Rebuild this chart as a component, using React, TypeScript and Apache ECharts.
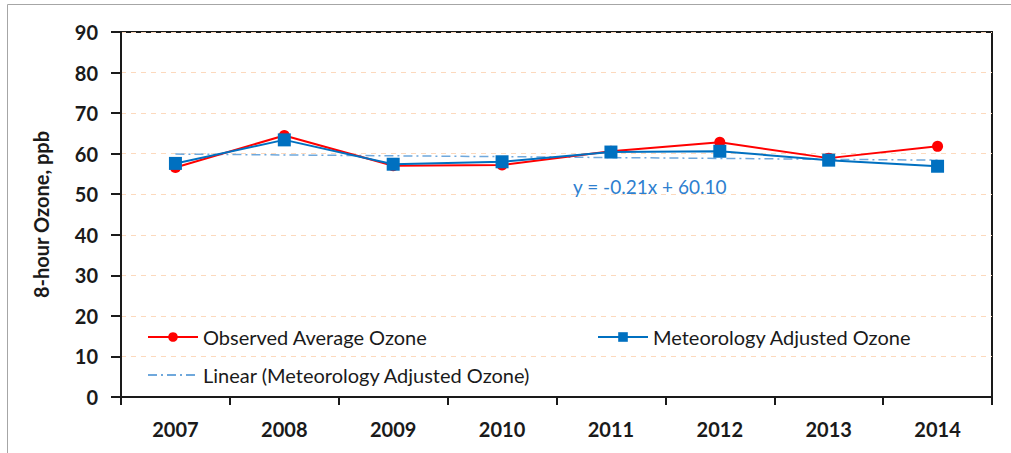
import React, { useEffect, useRef } from "react";
import * as echarts from "echarts";

const years = ["2007", "2008", "2009", "2010", "2011", "2012", "2013", "2014"];
const observed = [56.6, 64.5, 57.0, 57.2, 60.6, 62.8, 58.9, 61.8];
const adjusted = [57.6, 63.4, 57.4, 58.0, 60.4, 60.6, 58.4, 56.9];
// Linear trend endpoints (y = -0.21x + 60.10)
const trend = [59.9, null, null, null, null, null, null, 58.4];
const trendLabel = "y = -0.21x + 60.10";
const yTicks = { min: 0, max: 90, interval: 10 };

const FONT = "Lato, 'Open Sans', sans-serif";

export default function App() {
  const ref = useRef<HTMLDivElement>(null);
  useEffect(() => {
    const chart = echarts.init(ref.current!, null, { renderer: "svg" });
    const legendText = { fontFamily: FONT, fontSize: 20, color: "#1a1a1a" };
    chart.setOption({
      animation: false,
      backgroundColor: "#fff",
      grid: {
        left: 121,
        top: 32,
        right: 19,
        bottom: 56,
        show: true,
        borderColor: "#1a1a1a",
        borderWidth: 2,
        containLabel: false,
      },
      xAxis: {
        type: "category",
        data: years,
        boundaryGap: true,
        axisLine: { lineStyle: { color: "#1a1a1a", width: 2 } },
        axisTick: { show: true, length: 8, lineStyle: { color: "#1a1a1a", width: 2 } },
        axisLabel: {
          margin: 22,
          fontFamily: FONT,
          fontWeight: "bold",
          fontSize: 20,
          color: "#1a1a1a",
        },
        splitLine: { show: false },
      },
      yAxis: {
        type: "value",
        min: yTicks.min,
        max: yTicks.max,
        interval: yTicks.interval,
        name: "8-hour Ozone, ppb",
        nameLocation: "middle",
        nameGap: 70,
        nameTextStyle: {
          fontFamily: FONT,
          fontWeight: "bold",
          fontSize: 20,
          color: "#1a1a1a",
        },
        axisLine: { show: true, lineStyle: { color: "#1a1a1a", width: 2 } },
        axisTick: { show: true, length: 10, lineStyle: { color: "#1a1a1a", width: 2 } },
        axisLabel: {
          margin: 23,
          fontFamily: FONT,
          fontWeight: "bold",
          fontSize: 20,
          color: "#1a1a1a",
        },
        splitLine: {
          show: true,
          lineStyle: { color: "#fcd9bd", type: [5, 5], width: 1 },
        },
      },
      legend: [
        {
          data: ["Observed Average Ozone"],
          left: 147,
          top: 327,
          padding: 0,
          itemWidth: 50,
          itemHeight: 12,
          textStyle: legendText,
        },
        {
          data: ["Meteorology Adjusted Ozone"],
          left: 597,
          top: 327,
          padding: 0,
          itemWidth: 50,
          itemHeight: 12,
          textStyle: legendText,
        },
        {
          data: [
            {
              name: "Linear (Meteorology Adjusted Ozone)",
              itemStyle: { opacity: 0 },
            },
          ],
          left: 147,
          top: 365,
          padding: 0,
          itemWidth: 50,
          itemHeight: 12,
          textStyle: legendText,
        },
      ],
      graphic: [
        {
          type: "rect",
          shape: { x: 7.5, y: 4.5, width: 1100, height: 600 },
          style: { fill: "none", stroke: "#a6a6a6", lineWidth: 1 },
          silent: true,
          z: -1,
        },
        {
          type: "text",
          x: 573,
          y: 186,
          style: {
            text: trendLabel,
            fill: "#2e7fcf",
            fontFamily: FONT,
            fontSize: 19,
            textVerticalAlign: "middle",
          },
        },
      ],
      series: [
        {
          name: "Linear (Meteorology Adjusted Ozone)",
          type: "line",
          data: trend,
          connectNulls: true,
          symbol: "none",
          lineStyle: { color: "#6fa8dc", width: 1.5, type: [9, 4, 2, 4] },
          itemStyle: { color: "#6fa8dc" },
          z: 1,
        },
        {
          name: "Observed Average Ozone",
          type: "line",
          data: observed,
          symbol: "circle",
          symbolSize: 11,
          lineStyle: { color: "#ff0000", width: 2 },
          itemStyle: { color: "#ff0000" },
          z: 2,
        },
        {
          name: "Meteorology Adjusted Ozone",
          type: "line",
          data: adjusted,
          symbol: "rect",
          symbolSize: 13,
          lineStyle: { color: "#0070c0", width: 2 },
          itemStyle: { color: "#0070c0" },
          z: 3,
        },
      ],
    });
    return () => chart.dispose();
  }, []);
  return (
    <div
      ref={ref}
      style={{ position: "absolute", left: 0, top: 0, width: 1011, height: 453 }}
    />
  );
}
